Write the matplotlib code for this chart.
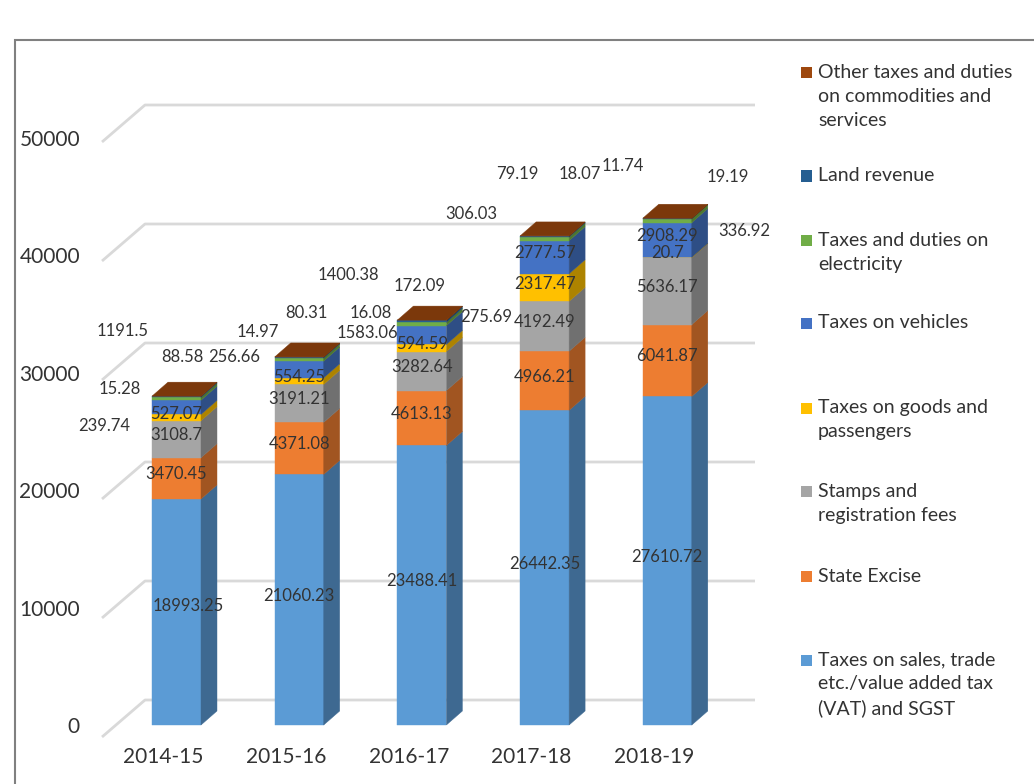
import numpy as np
import matplotlib
matplotlib.use("Agg")
import matplotlib.pyplot as plt
from matplotlib.patches import Rectangle, Polygon
from matplotlib.colors import to_rgb

plt.rcParams['font.family'] = ['Lato', 'DejaVu Sans']

# data (bottom of the stack first)
years = ['2014-15', '2015-16', '2016-17', '2017-18', '2018-19']
sales = [18993.25, 21060.23, 23488.41, 26442.35, 27610.72]
excise = [3470.45, 4371.08, 4613.13, 4966.21, 6041.87]
stamps = [3108.7, 3191.21, 3282.64, 4192.49, 5636.17]
goods = [527.07, 554.25, 594.59, 2317.47, 20.7]
vehicles = [1191.5, 1400.38, 1583.06, 2777.57, 2908.29]
electricity = [239.74, 256.66, 275.69, 306.03, 336.92]
land = [88.58, 80.31, 172.09, 79.19, 11.74]
other = [15.28, 14.97, 16.08, 18.07, 19.19]

series = [sales, excise, stamps, goods, vehicles, electricity, land, other]
names = ['Taxes on sales, trade\netc./value added tax\n(VAT) and SGST',
         'State Excise',
         'Stamps and\nregistration fees',
         'Taxes on goods and\npassengers',
         'Taxes on vehicles',
         'Taxes and duties on\nelectricity',
         'Land revenue',
         'Other taxes and duties\non commodities and\nservices']
colors = ['#5B9BD5', '#ED7D31', '#A5A5A5', '#FFC000', '#4472C4', '#70AD47', '#255E91', '#9E480E']

# labels that float outside the bars: (series, year) -> pixel offset from bar top
floating = {
    (4, 0): (-54, 65), (5, 0): (-72, -30), (6, 0): (6, 39), (7, 0): (-57, 7),
    (4, 1): (49, 82), (5, 1): (-65, 0), (6, 1): (7, 44), (7, 1): (-41, 25),
    (4, 2): (-54, -13), (5, 2): (64, 3), (6, 2): (-2, 34), (7, 2): (-51, 7),
    (5, 3): (-73, 22), (6, 3): (-27, 62), (7, 3): (35, 62),
    (5, 4): (77, -13), (6, 4): (-45, 52), (7, 4): (60, 41),
}
inside_shift = {(0, 0): (12, -6)}

W, H = 1034, 784
X0_PX, PX_CAT = 176.5, 122.7      # first bar centre, spacing
Y0_PX, PX_UNIT = 725, 0.0119      # front zero line, px per unit

fig = plt.figure(figsize=(W / 100, H / 100), dpi=100)
ax = fig.add_axes([0, 0, 1, 1])
ax.axis('off')
ax.set_xlim(-X0_PX / PX_CAT, (W - X0_PX) / PX_CAT)
ax.set_ylim(-(H - Y0_PX) / PX_UNIT, Y0_PX / PX_UNIT)

def dx(px):
    return px / PX_CAT

def dy(px):
    return px / PX_UNIT

def xpx(px):
    return (px - X0_PX) / PX_CAT

def shade(c, f):
    r, g, b = to_rgb(c)
    return (r * f, g * f, b * f)

txt = '#333333'

# gridlines with the 3D wall
for v in range(0, 50001, 10000):
    ax.plot([xpx(102), xpx(145), xpx(755)], [v - dy(12), v + dy(25), v + dy(25)],
            color='#D9D9D9', lw=2, zorder=1, solid_capstyle='butt')
    ypx = 727 - v * 0.01174
    ax.text(xpx(80), (Y0_PX - ypx) / PX_UNIT, str(v), ha='right', va='center',
            fontsize=15, color=txt)

bw = dx(49)
ddx, ddy = dx(16), dy(14)
for i, yr in enumerate(years):
    bottom = 0
    for j, s in enumerate(series):
        v = s[i]
        y0, y1 = bottom, bottom + v
        c = colors[j]
        ax.add_patch(Rectangle((i - bw / 2, y0), bw, v, fc=c, ec=c, lw=0.3, zorder=2))
        ax.add_patch(Polygon([(i + bw / 2, y0), (i + bw / 2 + ddx, y0 + ddy),
                              (i + bw / 2 + ddx, y1 + ddy), (i + bw / 2, y1)],
                             closed=True, fc=shade(c, 0.68), ec=shade(c, 0.68), lw=0.3, zorder=2))
        bottom = y1
    top = bottom
    tc = shade(colors[-1], 0.78)
    ax.add_patch(Polygon([(i - bw / 2, top), (i + bw / 2, top), (i + bw / 2 + ddx, top + ddy),
                          (i - bw / 2 + ddx, top + ddy)], closed=True, fc=tc, ec=tc, lw=0.3, zorder=3))
    ax.text(i - dx(13), -dy(32), yr, ha='center', va='center', fontsize=15, color=txt)

    # data labels
    bottom = 0
    for j, s in enumerate(series):
        v = s[i]
        mid = bottom + v / 2
        bottom += v
        if (j, i) in floating:
            ox, oy = floating[(j, i)]
            ax.annotate(str(v), (i, top), xytext=(ox, oy), textcoords='offset pixels',
                        ha='center', va='center', fontsize=12, color=txt, zorder=5)
        else:
            ox, oy = inside_shift.get((j, i), (0, -4))
            ax.annotate(str(v), (i, mid), xytext=(ox, -oy), textcoords='offset pixels',
                        ha='center', va='center', fontsize=12, color=txt, zorder=5)

# legend, top entry first
leg_y = [660, 576.7, 491.7, 408, 323, 240.7, 176, 72.7]
for j in range(len(series)):
    yc = leg_y[j]
    fig.add_artist(Rectangle((801 / W, 1 - (yc + 5.5) / H), 11 / W, 11 / H,
                             transform=fig.transFigure, fc=colors[j], ec='none'))
    fig.text(818 / W, 1 - (yc - 9) / H, names[j], ha='left', va='top', fontsize=14,
             color=txt, linespacing=1.5)

# chart border
fig.add_artist(Rectangle((15 / W, -0.05), 1.2, 1.05 - 40 / H, transform=fig.transFigure,
                         fill=False, ec='#808080', lw=1.5))

fig.savefig('out.png', dpi=100)
